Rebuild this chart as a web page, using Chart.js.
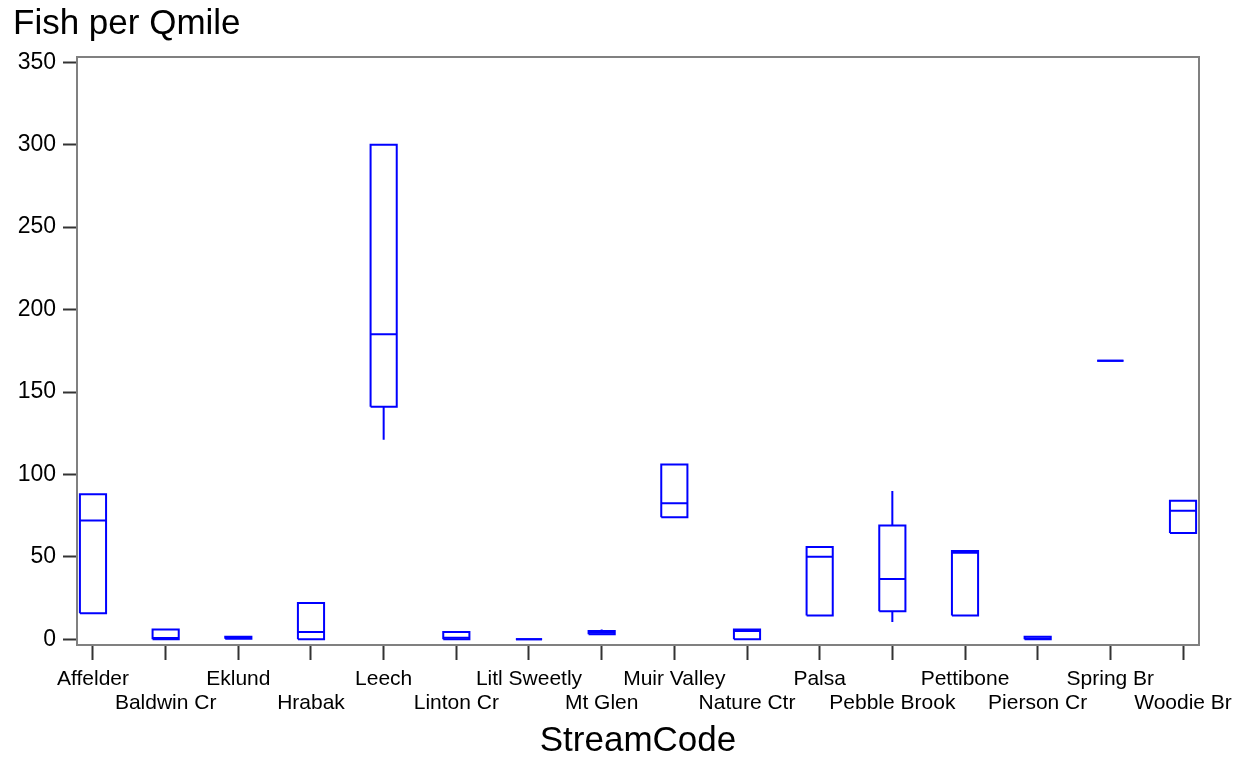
<!DOCTYPE html>
<html>
<head>
<meta charset="utf-8">
<title>Fish per Qmile</title>
<script src="https://cdn.jsdelivr.net/npm/chart.js@4/dist/chart.umd.min.js"></script>
<style>
    html, body { margin: 0; padding: 0; background: #ffffff; }
    #box { width: 1246px; height: 761px; }
</style>
</head>
<body>
<div id="box"><canvas id="myChart"></canvas></div>
<script>
"use strict";
// values
var streams = ["Affelder", "Baldwin Cr", "Eklund", "Hrabak", "Leech", "Linton Cr", "Litl Sweetly", "Mt Glen",
    "Muir Valley", "Nature Ctr", "Palsa", "Pebble Brook", "Pettibone", "Pierson Cr", "Spring Br", "Woodie Br"];
var minV   = [15.8, 0,   0.3, 0,   121, 0,   0, 3, 74,   0, 14.5, 10.5, 14.5, 0,   169, 64.5];
var q1     = [15.8, 0,   0.3, 0,   141, 0,   0, 3, 74,   0, 14.5, 17,   14.5, 0,   169, 64.5];
var median = [72,   0.8, 1,   4.5, 185, 1,   0, 4, 82.5, 5, 50,   36.5, 52.5, 0.5, 169, 78];
var q3     = [88,   6,   1.5, 22,  300, 4.5, 0, 5, 106,  6, 56,   69,   53.5, 1.5, 169, 84];
var maxV   = [88,   6,   1.5, 22,  300, 4.5, 0, 6, 106,  6, 56,   90,   53.5, 1.5, 169, 84];
var yTicks = [0, 50, 100, 150, 200, 250, 300, 350];

var BOX_HALF = 0.18;
var BLUE = "#0000ff";
var FONT = "'Liberation Sans', Arial, sans-serif";

var boxPts = [], medPts = [], whiskPts = [];
for (var i = 0; i <= streams.length - 1; i++) {
    boxPts.push({ x: i - BOX_HALF, y: q1[i] }, { x: i + BOX_HALF, y: q1[i] }, { x: i + BOX_HALF, y: q3[i] },
        { x: i - BOX_HALF, y: q3[i] }, { x: i - BOX_HALF, y: q1[i] }, { x: i, y: null });
    medPts.push({ x: i - BOX_HALF, y: median[i] }, { x: i + BOX_HALF, y: median[i] }, { x: i, y: null });
    if (minV[i] < q1[i]) whiskPts.push({ x: i, y: minV[i] }, { x: i, y: q1[i] }, { x: i, y: null });
    if (maxV[i] > q3[i]) whiskPts.push({ x: i, y: q3[i] }, { x: i, y: maxV[i] }, { x: i, y: null });
}

function lineSet(pts) {
    return {
        data: pts,
        showLine: true,
        spanGaps: false,
        borderColor: BLUE,
        borderWidth: 2,
        borderJoinStyle: "miter",
        pointRadius: 0,
        fill: false,
        tension: 0
    };
}

// frame around the plot area
var frame = {
    id: "frame",
    afterDraw: function (chart) {
        var a = chart.chartArea, ctx = chart.ctx;
        ctx.save();
        ctx.strokeStyle = "#808080";
        ctx.lineWidth = 2;
        ctx.strokeRect(a.left, a.top, a.right - a.left, a.bottom - a.top);
        ctx.restore();
    }
};

var ctx = document.getElementById("myChart").getContext("2d");
var chart = new Chart(ctx, {
    type: "scatter",
    data: {
        datasets: [lineSet(boxPts), lineSet(medPts), lineSet(whiskPts)]
    },
    plugins: [frame],
    options: {
        responsive: true,
        maintainAspectRatio: false,
        animation: false,
        layout: { padding: { left: 13, right: 47, top: 0, bottom: 0 } },
        plugins: {
            legend: { display: false },
            tooltip: { enabled: false },
            title: {
                display: true,
                text: "Fish per Qmile",
                align: "start",
                color: "#000000",
                font: { family: FONT, size: 35, weight: "normal", lineHeight: 1.2 },
                padding: { top: 3, bottom: 12 }
            }
        },
        scales: {
            x: {
                type: "linear",
                min: -0.22,
                max: 15.22,
                offset: false,
                afterBuildTicks: function (s) {
                    s.ticks = streams.map(function (n, k) { return { value: k }; });
                },
                afterFit: function (s) { s.height = 116; },
                grid: { drawOnChartArea: false, drawTicks: true, tickLength: 15, tickWidth: 2, tickColor: "#333333" },
                border: { display: false },
                ticks: {
                    autoSkip: false,
                    maxRotation: 0,
                    minRotation: 0,
                    padding: 7,
                    color: "#000000",
                    font: { family: FONT, size: 21, lineHeight: 1.15 },
                    callback: function (v) {
                        var n = streams[v];
                        return v % 2 === 0 ? [n, ""] : ["", n];
                    }
                },
                title: {
                    display: true,
                    text: "StreamCode",
                    color: "#000000",
                    font: { family: FONT, size: 35, lineHeight: 1.1 },
                    padding: { top: 2, bottom: 0 }
                }
            },
            y: {
                min: -3.46,
                max: 353.2,
                afterBuildTicks: function (s) {
                    s.ticks = yTicks.map(function (v) { return { value: v }; });
                },
                afterFit: function (s) { s.width = 64; },
                grid: { drawOnChartArea: false, drawTicks: true, tickLength: 14, tickWidth: 2, tickColor: "#333333" },
                border: { display: false },
                ticks: {
                    padding: 7,
                    color: "#000000",
                    font: { family: FONT, size: 23 }
                }
            }
        }
    }
});
</script>
</body>
</html>
